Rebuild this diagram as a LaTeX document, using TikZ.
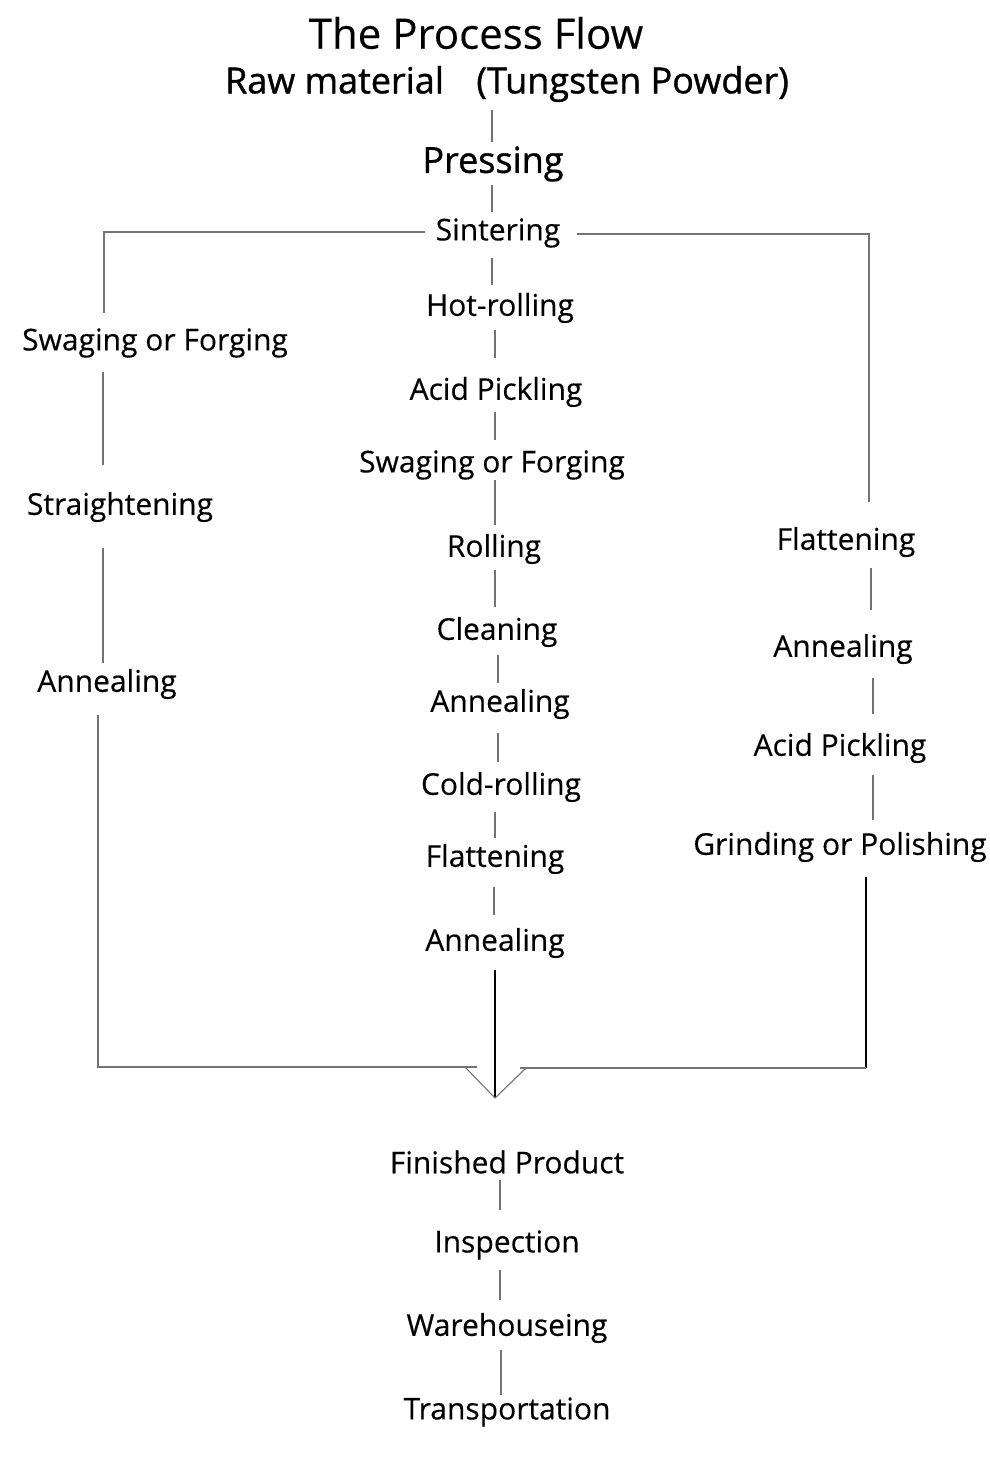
\documentclass[tikz,border=0pt]{standalone}
\usepackage{fontspec}
\setmainfont{Open Sans}
\newfontfamily\lblfont[FakeBold=0.3]{Open Sans}
\newfontfamily\subfont[FakeBold=1.0]{Open Sans}
\begin{document}
\begin{tikzpicture}[x=1pt,y=-1pt,
  lbl/.style={inner sep=0pt,yshift=-3pt,font=\lblfont\fontsize{30}{34}\selectfont},
  ttl/.style={inner sep=0pt,yshift=-2pt,font=\lblfont\fontsize{42}{48}\selectfont},
  sub/.style={inner sep=0pt,yshift=-3pt,font=\subfont\fontsize{36}{40}\selectfont},
  ln/.style={draw=black!55,line width=1.1pt},
  lnd/.style={draw=black,line width=1.1pt}]
\fill[white] (0,0) rectangle (990,1469);
\useasboundingbox (0,0) rectangle (990,1469);
% title
\node[ttl] (title) at (476,31) {The Process Flow};
\node[sub] (raw) at (507,81) {Raw material\hspace{0.9em}(Tungsten Powder)};
\node[sub] (press) at (493,161) {Pressing};
\node[lbl] (sint) at (498,230) {Sintering};
% center column
\node[lbl] (c1) at (500,305) {Hot-rolling};
\node[lbl] (c2) at (496,389) {Acid Pickling};
\node[lbl] (c3) at (492,462) {Swaging or Forging};
\node[lbl] (c4) at (494,546) {Rolling};
\node[lbl] (c5) at (497,629) {Cleaning};
\node[lbl] (c6) at (500,701) {Annealing};
\node[lbl] (c7) at (501,784) {Cold-rolling};
\node[lbl] (c8) at (495,856) {Flattening};
\node[lbl] (c9) at (495,940) {Annealing};
% left column
\node[lbl] (l1) at (155,340) {Swaging or Forging};
\node[lbl] (l2) at (120,504) {Straightening};
\node[lbl] (l3) at (107,681) {Annealing};
% right column
\node[lbl] (r1) at (846,539) {Flattening};
\node[lbl] (r2) at (843,646) {Annealing};
\node[lbl] (r3) at (840,745) {Acid Pickling};
\node[lbl] (r4) at (840,844) {Grinding or Polishing};
% bottom
\node[lbl] (b1) at (507,1159) {Finished Product};
\node[lbl] (b2) at (507,1242) {Inspection};
\node[lbl] (b3) at (507,1325) {Warehouseing};
\node[lbl] (b4) at (507,1409) {Transportation};
% coordinates
\coordinate (m) at (495,1098);
\coordinate (mlh) at (477,1067);
\coordinate (mld) at (465,1067);
\coordinate (mrh) at (520,1068);
\coordinate (mrd) at (526,1068);
\coordinate (rc) at (866,1068);
% top connectors
\draw[ln] (492,110) -- (492,142);
\draw[ln] (492,185) -- (492,212);
\draw[ln] (425,232) -| (104,313);
\draw[ln] (577,234) -| (869,502);
% center connectors
\draw[ln] (492,258) -- (492,285);
\draw[ln] (495,330) -- (495,358);
\draw[ln] (495,412) -- (495,440);
\draw[ln] (495,480) -- (495,525);
\draw[ln] (495,570) -- (495,607);
\draw[ln] (498,655) -- (498,683);
\draw[ln] (498,733) -- (498,762);
\draw[ln] (495,812) -- (495,838);
\draw[ln] (494,887) -- (494,915);
\draw[lnd] (495,970) -- (m);
% left
\draw[ln] (103,372) -- (103,465);
\draw[ln] (103,548) -- (103,663);
\draw[ln] (98,715) |- (mlh);
\draw[ln] (mld) -- (m);
% right
\draw[ln] (871,568) -- (871,610);
\draw[ln] (873,678) -- (873,714);
\draw[ln] (873,775) -- (873,820);
\draw[lnd] (866,877) -- (rc);
\draw[ln] (rc) -- (mrh);
\draw[ln] (mrd) -- (m);
% bottom
\draw[ln] (500,1180) -- (500,1210);
\draw[ln] (500,1270) -- (500,1300);
\draw[ln] (501,1350) -- (501,1395);
\end{tikzpicture}
\end{document}
